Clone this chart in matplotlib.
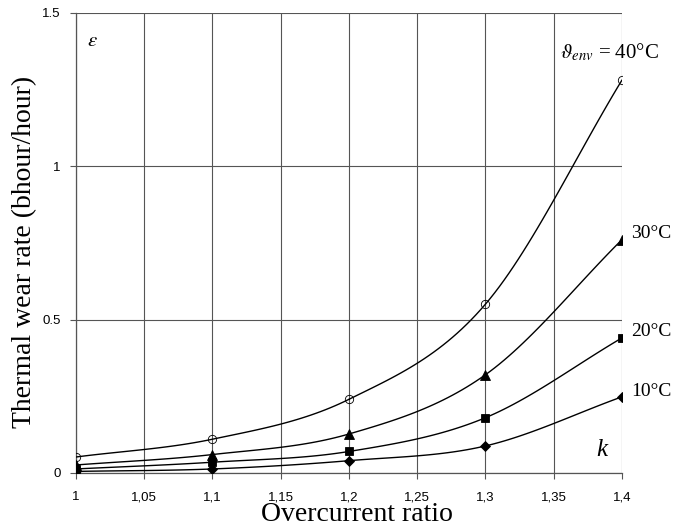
import numpy as np
import matplotlib.pyplot as plt

# ================== DATA ==================
k_values = [1.0, 1.1, 1.2, 1.3, 1.4]
wear_40 = [0.052, 0.11, 0.24, 0.55, 1.28]
wear_30 = [0.026, 0.06, 0.127, 0.32, 0.76]
wear_20 = [0.013, 0.035, 0.07, 0.18, 0.44]
wear_10 = [0.005, 0.013, 0.04, 0.088, 0.248]

x_ticks = [1.0, 1.05, 1.1, 1.15, 1.2, 1.25, 1.3, 1.35, 1.4]
x_tick_labels = ["1", "1,05", "1,1", "1,15", "1,2", "1,25", "1,3", "1,35", "1,4"]
y_ticks = [0, 0.5, 1.0, 1.5]
y_tick_labels = ["0", "0.5", "1", "1.5"]

series = [
    (wear_40, "o", "none", 6),
    (wear_30, "^", "black", 7),
    (wear_20, "s", "black", 6),
    (wear_10, "D", "black", 5),
]

SERIF = "Liberation Serif"
SANS = "Liberation Sans"
plt.rcParams["mathtext.fontset"] = "stix"


def smooth(xs, ys, n=30):
    # Catmull-Rom style smoothing like spreadsheet "smoothed line"
    xs = np.asarray(xs, float)
    ys = np.asarray(ys, float)
    px = np.concatenate([[2 * xs[0] - xs[1]], xs, [2 * xs[-1] - xs[-2]]])
    py = np.concatenate([[2 * ys[0] - ys[1]], ys, [2 * ys[-1] - ys[-2]]])
    out_x, out_y = [], []
    t = np.linspace(0, 1, n)
    for i in range(1, len(px) - 2):
        for p, out in ((px, out_x), (py, out_y)):
            p0, p1, p2, p3 = p[i - 1], p[i], p[i + 1], p[i + 2]
            seg = 0.5 * ((2 * p1) + (-p0 + p2) * t
                         + (2 * p0 - 5 * p1 + 4 * p2 - p3) * t ** 2
                         + (-p0 + 3 * p1 - 3 * p2 + p3) * t ** 3)
            out.extend(seg)
    return np.array(out_x), np.array(out_y)


fig = plt.figure(figsize=(6.73, 5.32), dpi=100)
ax = fig.add_axes([0.113, 0.111, 0.811, 0.865])

for ys, marker, face, ms in series:
    sx, sy = smooth(k_values, ys)
    ax.plot(sx, sy, color="black", linewidth=1.0, zorder=3)
    ax.plot(k_values, ys, linestyle="none", marker=marker, markersize=ms,
            markerfacecolor=face, markeredgecolor="black", markeredgewidth=0.6,
            zorder=4)

ax.set_xlim(1.0, 1.4)
ax.set_ylim(0, 1.5)
ax.set_xticks(x_ticks)
ax.set_xticklabels(x_tick_labels, fontfamily=SANS, fontsize=9.5)
ax.set_yticks(y_ticks)
ax.set_yticklabels(y_tick_labels, fontfamily=SANS, fontsize=9.5)
ax.tick_params(axis="both", direction="out", length=4, width=0.8, color="#555555", pad=7)
ax.tick_params(axis="x", pad=9)

ax.grid(True, color="#555555", linewidth=0.8)
ax.set_axisbelow(True)
for side in ["top", "right"]:
    ax.spines[side].set_visible(False)
for side in ["left", "bottom"]:
    ax.spines[side].set_color("#555555")
    ax.spines[side].set_linewidth(0.9)

ax.set_xlabel("Overcurrent ratio", fontfamily=SERIF, fontsize=20)
ax.xaxis.set_label_coords(0.515, -0.063)
ax.set_ylabel("Thermal wear rate (bhour/hour)", fontfamily=SERIF, fontsize=20)
ax.yaxis.set_label_coords(-0.072, 0.48)

ax.text(1.008, 1.41, r"$\varepsilon$", fontsize=15, ha="left", va="center")
ax.text(1.385, 0.075, "k", fontfamily=SERIF, style="italic", fontsize=18,
        ha="center", va="center")

# curve labels
ax.text(1.391, 1.37, r"$\vartheta_{env}$ = 40°C", fontfamily=SERIF, fontsize=15,
        ha="center", va="center", clip_on=False)
label_pos = [(wear_30[-1] + 0.022, "30°C"), (wear_20[-1] + 0.022, "20°C"),
             (wear_10[-1] + 0.018, "10°C")]
for yv, txt in label_pos:
    ax.text(1.407, yv, txt, fontfamily=SERIF, fontsize=14, ha="left", va="center",
            clip_on=False)

fig.savefig("out.png", dpi=100)
